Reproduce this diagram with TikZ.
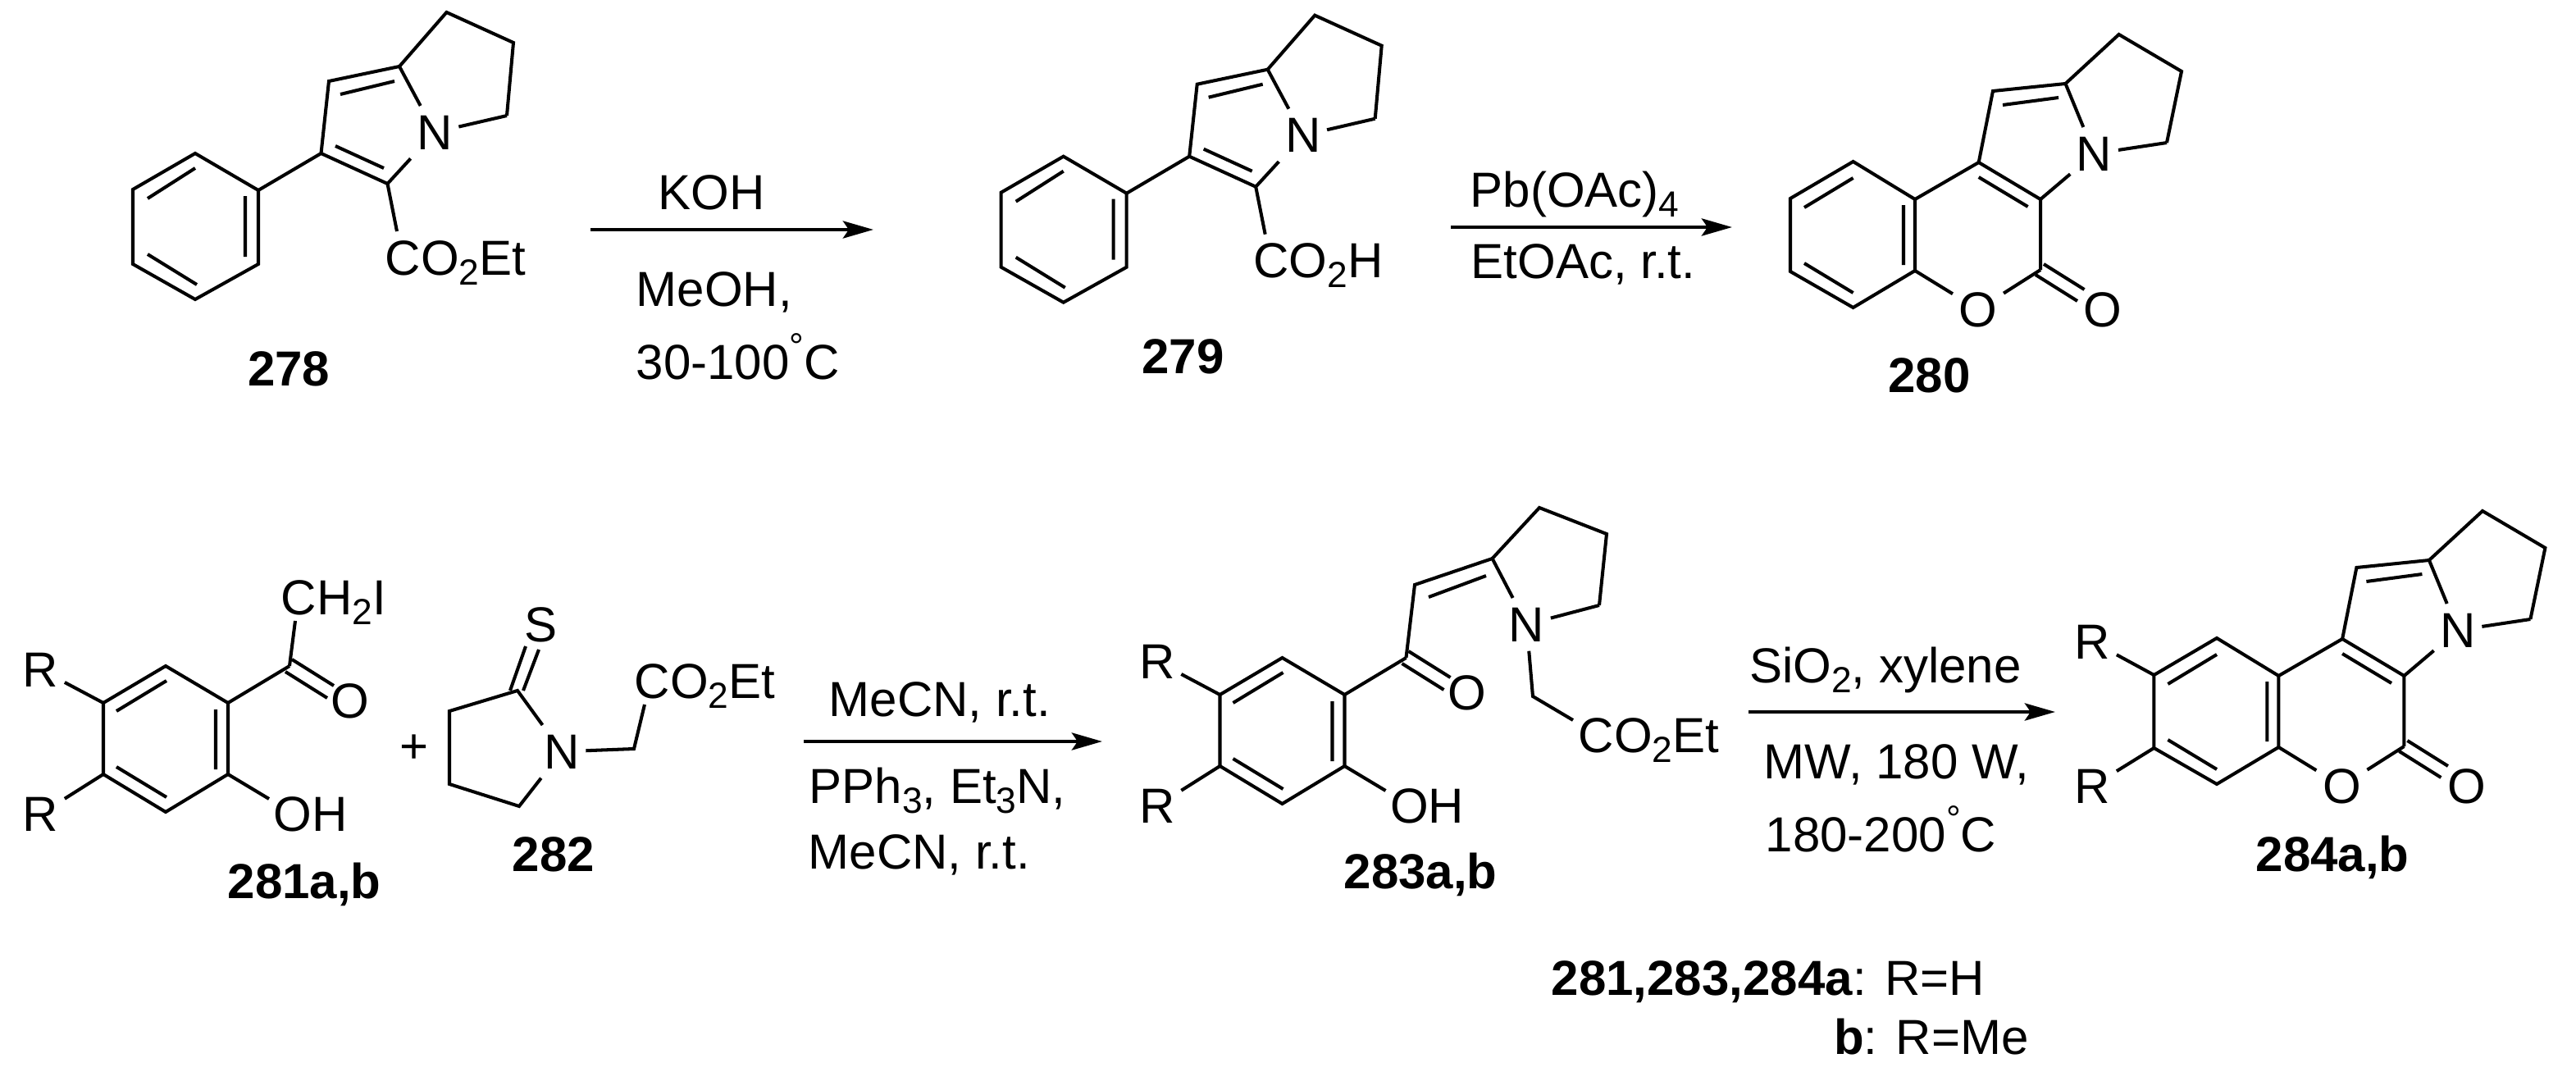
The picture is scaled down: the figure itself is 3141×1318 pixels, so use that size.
\documentclass[tikz,border=0pt]{standalone}
\usepackage{fontspec}
\usetikzlibrary{arrows.meta}
\setmainfont{Liberation Sans}
\newcommand{\chemfont}{\fontsize{17.07}{20}\selectfont}
\newcommand{\sbs}[1]{\raisebox{-0.12cm}{\fontsize{12.6}{14}\selectfont #1}}
\newcommand{\degr}{\raisebox{0.24cm}{\fontsize{12.6}{14}\selectfont °}}
\tikzset{
	bond/.style={line width=1.15pt},
	rxnarrow/.style={line width=1.35pt, -{Stealth[length=0.37cm, width=0.21cm, inset=0.07cm]}},
	txt/.style={font=\chemfont, inner sep=0pt, anchor=base west, xshift=-0.02cm},
	cmpd/.style={txt, font=\chemfont\bfseries},
	atom/.style={font=\chemfont, inner xsep=0.07cm, inner ysep=0.11cm, anchor=base},
}
% phenyl pyrrolizine with its acid group, for 278 and 279
\newcommand{\phenylpyrrolizine}[4]{
	\begin{scope}[shift={(#1,#2)}, name prefix=#3-]
		\node[atom] (n) at (530,182) {N};
		\node[txt] (acid) at (471,335) {#4};
		\draw[bond] (238,187) coordinate (b1) -- (315,232) coordinate (b2) -- (315,322) -- (238,365) -- (162,322) -- (162,231) -- cycle;
		\draw[bond] (238,205) -- (180,242) (299,239) -- (299,313) (180,310) -- (240,347);
		\draw[bond] (472.5,224) coordinate (c2) -- (391.5,187) coordinate (c3) -- (401,99) -- (487,81) coordinate (c5);
		\draw[bond] (b2) -- (c3);
		\draw[bond] (415,115) -- (481,99) (409,178) -- (468,205);
		\draw[bond] (c5) -- (n);
		\draw[bond] (c2) -- (n);
		\draw[bond] (c5) -- (544.5,15) -- (626,52) -- (618,141) coordinate (p3);
		\draw[bond] (p3) -- (n);
		\coordinate (acidend) at (484,282);
		\draw[bond] (c2) -- (acidend);
	\end{scope}
}
% fused coumarin core, for 280 and 284
\newcommand{\coumarincore}[3]{
	\begin{scope}[shift={(#1,#2)}, name prefix=#3-]
		\node[atom] (n) at (2553.6,208) {N};
		\node[atom] (o) at (2412,398) {O};
		\node[atom] (oc) at (2564,398) {O};
		\draw[bond] (2259.6,197) -- (2335,243) coordinate (b2) -- (2335,330) coordinate (b3) -- (2259.6,375) -- (2183,331) coordinate (b5) -- (2183,242) coordinate (b6) -- cycle;
		\draw[bond] (2259.6,217) -- (2200,253) (2321,250) -- (2321,323) (2200,321) -- (2259.6,357);
		\draw[bond] (b2) -- (2412.7,198) coordinate (c4) -- (2488,243) coordinate (c3) -- (2488,329) coordinate (c2);
		\draw[bond] (2412.7,216) -- (2472.6,252);
		\draw[bond] (b3) -- (o);
		\draw[bond] (c2) -- (o);
		\draw[bond] (2492,322) -- (2541.5,353) (2482,335) -- (2533,367);
		\draw[bond] (c4) -- (2430,111) -- (2518.5,102) coordinate (c5);
		\draw[bond] (2442,128) -- (2510,119);
		\draw[bond] (c5) -- (n);
		\draw[bond] (c3) -- (n);
		\draw[bond] (c5) -- (2583.6,42) -- (2660,87) -- (2642,174) coordinate (p3);
		\draw[bond] (p3) -- (n);
	\end{scope}
}
% dialkyl hydroxyphenyl ketone part, for 281 and 283
\newcommand{\acylphenol}[3]{
	\begin{scope}[shift={(#1,#2)}, name prefix=#3-]
		\node[atom] (ra) at (49.5,837) {R};
		\node[atom] (rb) at (49.5,1013) {R};
		\node[atom] (oc) at (427,875) {O};
		\node[txt] (oh) at (335,1013) {OH};
		\draw[bond] (202,812) -- (278,857) coordinate (b2) -- (278,944) coordinate (b3) -- (202,990) -- (126,944) coordinate (b5) -- (126,857) coordinate (b6) -- cycle;
		\draw[bond] (142,867) -- (203,830) (263,865) -- (263,938) (142,935) -- (203,972);
		\draw[bond] (b6) -- (ra);
		\draw[bond] (b5) -- (rb);
		\coordinate (ohend) at (328,974);
		\draw[bond] (b3) -- (ohend);
		\draw[bond] (b2) -- (353,812) coordinate (co);
		\draw[bond] (356,804) -- (407,836) (348,819) -- (399,851);
	\end{scope}
}
\begin{document}
\begin{tikzpicture}[x=0.01cm, y=-0.01cm]
	\useasboundingbox (0,0) rectangle (3141,1318);

	% first row
	\phenylpyrrolizine{0}{0}{m278}{CO\sbs{2}Et}
	\phenylpyrrolizine{1058.7}{3.7}{m279}{CO\sbs{2}H}
	\coumarincore{0}{0}{m280}
	\node[cmpd] (l278) at (303.5,470) {278};
	\node[cmpd] (l279) at (1393.6,455) {279};
	\node[cmpd] (l280) at (2303.6,478) {280};

	\coordinate (arrowas) at (720,280);
	\coordinate (arrowae) at (1065,280);
	\draw[rxnarrow] (arrowas) -- (arrowae);
	\node[txt] (koh) at (804,255) {KOH};
	\node[txt] (meoh) at (777,373) {MeOH,};
	\node[txt] (tempa) at (777,462) {30-100\degr C};

	\coordinate (arrowbs) at (1769,277);
	\coordinate (arrowbe) at (2112,277);
	\draw[rxnarrow] (arrowbs) -- (arrowbe);
	\node[txt] (pboac) at (1794,252) {Pb(OAc)\sbs{4}};
	\node[txt] (etoac) at (1795,339) {EtOAc, r.t.};

	% second row
	\acylphenol{0}{0}{m281}
	\coordinate (chend) at (360,757);
	\draw[bond] (m281-co) -- (chend);
	\node[txt] (chi) at (344,749) {CH\sbs{2}I};
	\node[cmpd] (l281) at (279,1095) {281a,b};
	\node[txt] (plus) at (488.5,930) {+};

	\node[atom] (s282) at (660,782) {S};
	\node[atom] (n282) at (685,937) {N};
	\node[txt] (est282) at (775,851) {CO\sbs{2}Et};
	\draw[bond] (641,788) -- (622,842) (657,792) -- (638,842);
	\draw[bond] (n282) -- (631,842) -- (548,867) -- (548,956) -- (633,983) -- (n282);
	\coordinate (estend) at (786,859);
	\draw[bond] (n282) -- (773,913) -- (estend);
	\node[cmpd] (l282) at (626,1062) {282};

	\coordinate (arrowcs) at (980,904);
	\coordinate (arrowce) at (1344,904);
	\draw[rxnarrow] (arrowcs) -- (arrowce);
	\node[txt] (mecna) at (1012,873) {MeCN, r.t.};
	\node[txt] (pph) at (988,979) {PPh\sbs{3}, Et\sbs{3}N,};
	\node[txt] (mecnb) at (987,1059) {MeCN, r.t.};

	\acylphenol{1361.5}{-10}{m283}
	\node[atom] (n283) at (1861.5,782) {N};
	\node[txt] (est283) at (1926,917) {CO\sbs{2}Et};
	\draw[bond] (m283-co) -- (1725,713) -- (1819.6,681) coordinate (c283);
	\draw[bond] (1742,728) -- (1812,702);
	\draw[bond] (c283) -- (n283);
	\draw[bond] (c283) -- (1877,619) -- (1959,651) -- (1950,738) coordinate (p283);
	\draw[bond] (p283) -- (n283);
	\coordinate (est283end) at (1918,878);
	\draw[bond] (n283) -- (1869,849) -- (est283end);
	\node[cmpd] (l283) at (1640,1083) {283a,b};

	\coordinate (arrowds) at (2132,868);
	\coordinate (arrowde) at (2506,868);
	\draw[rxnarrow] (arrowds) -- (arrowde);
	\node[txt] (sio) at (2134.5,832) {SiO\sbs{2}, xylene};
	\node[txt] (mw) at (2152,949) {MW, 180 W,};
	\node[txt] (tempb) at (2154,1038) {180-200\degr C};

	\coumarincore{443.4}{581}{m284}
	\node[atom] (ra284) at (2551.5,803) {R};
	\node[atom] (rb284) at (2551.5,979) {R};
	\draw[bond] (m284-b6) -- (ra284);
	\draw[bond] (m284-b5) -- (rb284);
	\node[cmpd] (l284) at (2752,1062) {284a,b};

	\node[txt] (keya) at (1893,1213) {\textbf{281,283,284a}: R=H};
	\node[txt] (keyb) at (2237.5,1285) {\textbf{b}: R=Me};
\end{tikzpicture}
\end{document}
